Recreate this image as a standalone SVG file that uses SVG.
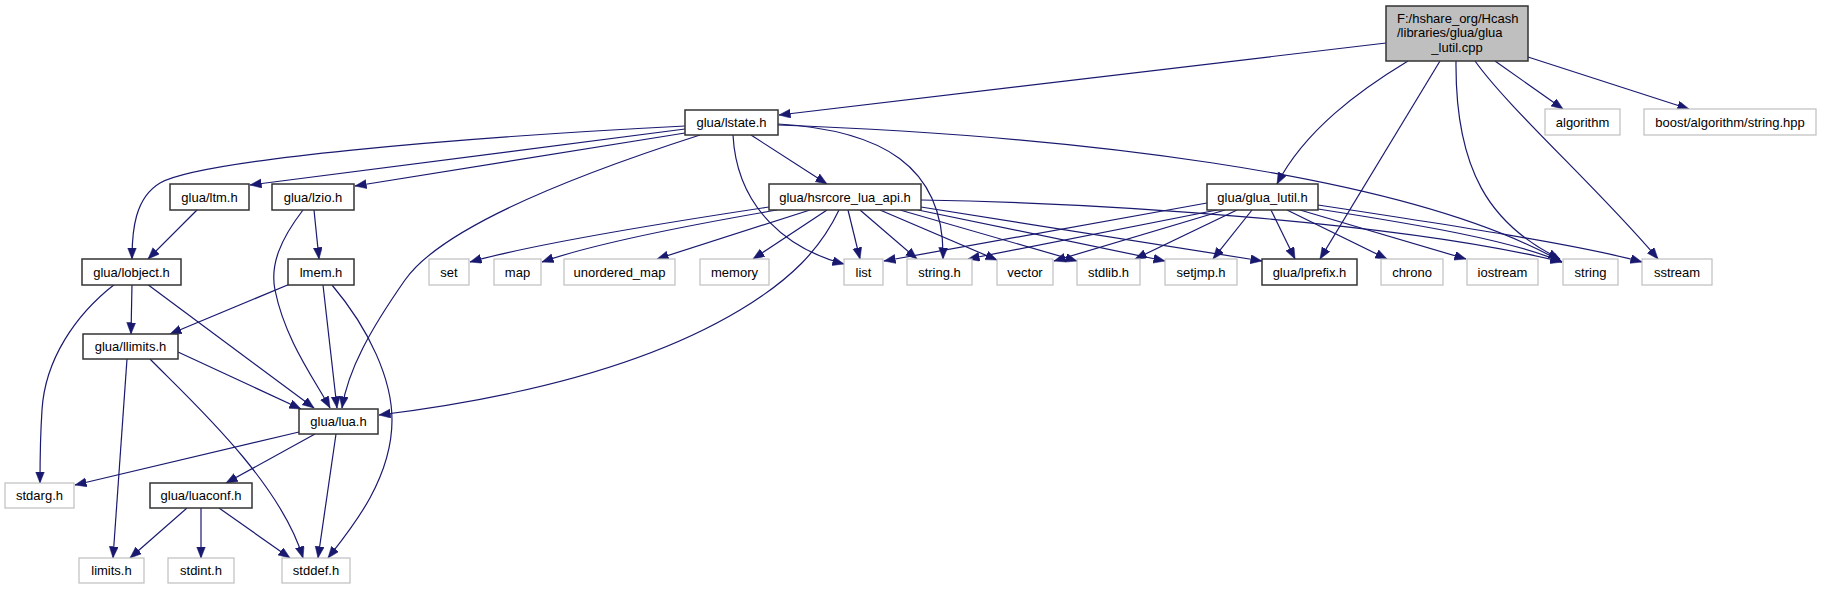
<svg xmlns="http://www.w3.org/2000/svg" width="1822" height="589" viewBox="0 0 1822 589">
<style>
text{font-family:"Liberation Sans",Arial,sans-serif;font-size:13px;fill:#000;text-anchor:middle}
.n rect{fill:#fff;stroke:#333;stroke-width:1.5}
.g rect{fill:#fff;stroke:#bfbfbf;stroke-width:1.2}
.r rect{fill:#bfbfbf;stroke:#333;stroke-width:1.5}
#edges path{fill:none;stroke:#191970;stroke-width:1.2;marker-end:url(#ah)}
</style>
<defs>
<marker id="ah" markerUnits="userSpaceOnUse" markerWidth="12" markerHeight="10" refX="11.5" refY="4.5" orient="auto">
<path d="M0,0 L11.5,4.5 L0,9 z" fill="#191970" stroke="#191970" stroke-width="0.5"/>
</marker>
</defs>
<rect width="1822" height="589" fill="#fff"/>
<g id="edges">
<path d="M1386,43 L779,115"/>
<path d="M1408,61 C1360,90 1305,130 1277,184"/>
<path d="M1440,61 L1320,259"/>
<path d="M1456,61 C1455,170 1490,225 1560,259"/>
<path d="M1475,61 C1510,110 1600,190 1658,259"/>
<path d="M1495,61 L1563,109"/>
<path d="M1528,57 L1689,109"/>
<path d="M751,135 L827,184"/>
<path d="M733,135 C737,210 790,250 844,264"/>
<path d="M778,124 C880,130 945,165 943,259"/>
<path d="M778,125 C1050,135 1400,170 1562,262"/>
<path d="M685,126 C450,138 200,160 160,183 C135,198 132,230 132,259"/>
<path d="M685,129 L250,185"/>
<path d="M685,133 L355,186"/>
<path d="M700,135 C560,180 440,230 405,280 C370,330 348,370 342,408"/>
<path d="M197,210 L148,259"/>
<path d="M314,210 L319,259"/>
<path d="M303,210 C280,240 270,265 275,290 C285,340 315,380 330,408"/>
<path d="M290,284 L170,334"/>
<path d="M323,285 L337,408"/>
<path d="M332,285 C370,330 392,380 392,420 C392,480 350,530 328,558"/>
<path d="M132,284 L131,334"/>
<path d="M147,284 L314,408"/>
<path d="M115,284 C75,315 45,360 42,410 C40,440 40,460 40,483"/>
<path d="M178,352 L301,409"/>
<path d="M127,359 L113,558"/>
<path d="M150,359 C185,395 280,480 303,558"/>
<path d="M769,207 C650,225 530,245 470,262"/>
<path d="M777,210 C690,225 590,245 542,262"/>
<path d="M810,210 L657,259"/>
<path d="M827,210 L753,259"/>
<path d="M839,210 C820,250 790,280 740,310 C640,370 500,400 379,415"/>
<path d="M848,210 L860,259"/>
<path d="M860,210 L917,259"/>
<path d="M880,210 L997,260"/>
<path d="M900,210 L1077,261"/>
<path d="M918,210 L1165,261"/>
<path d="M921,207 L1262,261"/>
<path d="M921,200 C1100,203 1400,222 1562,262"/>
<path d="M1207,203 L884,261"/>
<path d="M1217,210 L968,259"/>
<path d="M1225,210 L1054,261"/>
<path d="M1237,210 L1135,259"/>
<path d="M1252,210 L1213,259"/>
<path d="M1271,210 L1295,259"/>
<path d="M1287,210 L1387,259"/>
<path d="M1300,210 L1466,259"/>
<path d="M1318,205 C1450,225 1580,245 1642,262"/>
<path d="M1318,209 C1420,225 1510,240 1562,262"/>
<path d="M299,432 L75,485"/>
<path d="M315,434 L226,483"/>
<path d="M336,434 L318,558"/>
<path d="M187,508 L130,558"/>
<path d="M201,508 L201,558"/>
<path d="M219,508 L290,558"/>
</g>
<g id="root" class="r"><rect x="1386" y="6" width="142" height="55"/><text x="1397" y="22.5" style="text-anchor:start">F:/hshare_org/Hcash</text><text x="1397" y="37" style="text-anchor:start">/libraries/glua/glua</text><text x="1457" y="51.5">_lutil.cpp</text></g>
<g id="lstate" class="n"><rect x="685" y="110" width="93" height="25"/><text x="731.5" y="127">glua/lstate.h</text></g>
<g id="algorithm" class="g"><rect x="1545" y="109" width="75" height="26"/><text x="1582.5" y="126.5">algorithm</text></g>
<g id="boost" class="g"><rect x="1644" y="109" width="172" height="26"/><text x="1730" y="126.5">boost/algorithm/string.hpp</text></g>
<g id="ltm" class="n"><rect x="170" y="184" width="79" height="26"/><text x="209.5" y="201.5">glua/ltm.h</text></g>
<g id="lzio" class="n"><rect x="272" y="184" width="82" height="26"/><text x="313" y="201.5">glua/lzio.h</text></g>
<g id="hsrcore" class="n"><rect x="769" y="184" width="152" height="26"/><text x="845" y="201.5">glua/hsrcore_lua_api.h</text></g>
<g id="glua_lutil" class="n"><rect x="1207" y="184" width="111" height="26"/><text x="1262.5" y="201.5">glua/glua_lutil.h</text></g>
<g id="lobject" class="n"><rect x="82" y="259" width="99" height="26"/><text x="131.5" y="276.5">glua/lobject.h</text></g>
<g id="lmem" class="n"><rect x="288" y="259" width="66" height="26"/><text x="321" y="276.5">lmem.h</text></g>
<g id="set" class="g"><rect x="429" y="259" width="40" height="26"/><text x="449" y="276.5">set</text></g>
<g id="map" class="g"><rect x="494" y="259" width="47" height="26"/><text x="517.5" y="276.5">map</text></g>
<g id="unordered_map" class="g"><rect x="564" y="259" width="111" height="26"/><text x="619.5" y="276.5">unordered_map</text></g>
<g id="memory" class="g"><rect x="700" y="259" width="69" height="26"/><text x="734.5" y="276.5">memory</text></g>
<g id="list" class="g"><rect x="844" y="259" width="39" height="26"/><text x="863.5" y="276.5">list</text></g>
<g id="string_h" class="g"><rect x="907" y="259" width="65" height="26"/><text x="939.5" y="276.5">string.h</text></g>
<g id="vector" class="g"><rect x="997" y="259" width="56" height="26"/><text x="1025" y="276.5">vector</text></g>
<g id="stdlib" class="g"><rect x="1077" y="259" width="63" height="26"/><text x="1108.5" y="276.5">stdlib.h</text></g>
<g id="setjmp" class="g"><rect x="1165" y="259" width="72" height="26"/><text x="1201" y="276.5">setjmp.h</text></g>
<g id="lprefix" class="n"><rect x="1262" y="259" width="95" height="26"/><text x="1309.5" y="276.5">glua/lprefix.h</text></g>
<g id="chrono" class="g"><rect x="1381" y="259" width="62" height="26"/><text x="1412" y="276.5">chrono</text></g>
<g id="iostream" class="g"><rect x="1467" y="259" width="71" height="26"/><text x="1502.5" y="276.5">iostream</text></g>
<g id="string" class="g"><rect x="1563" y="259" width="55" height="26"/><text x="1590.5" y="276.5">string</text></g>
<g id="sstream" class="g"><rect x="1642" y="259" width="70" height="26"/><text x="1677" y="276.5">sstream</text></g>
<g id="llimits" class="n"><rect x="83" y="334" width="95" height="25"/><text x="130.5" y="351">glua/llimits.h</text></g>
<g id="lua" class="n"><rect x="299" y="409" width="79" height="25"/><text x="338.5" y="426">glua/lua.h</text></g>
<g id="stdarg" class="g"><rect x="5" y="483" width="69" height="25"/><text x="39.5" y="500">stdarg.h</text></g>
<g id="luaconf" class="n"><rect x="150" y="483" width="102" height="25"/><text x="201" y="500">glua/luaconf.h</text></g>
<g id="limits" class="g"><rect x="79" y="558" width="65" height="25"/><text x="111.5" y="575">limits.h</text></g>
<g id="stdint" class="g"><rect x="168" y="558" width="66" height="25"/><text x="201" y="575">stdint.h</text></g>
<g id="stddef" class="g"><rect x="282" y="558" width="68" height="25"/><text x="316" y="575">stddef.h</text></g>
</svg>
